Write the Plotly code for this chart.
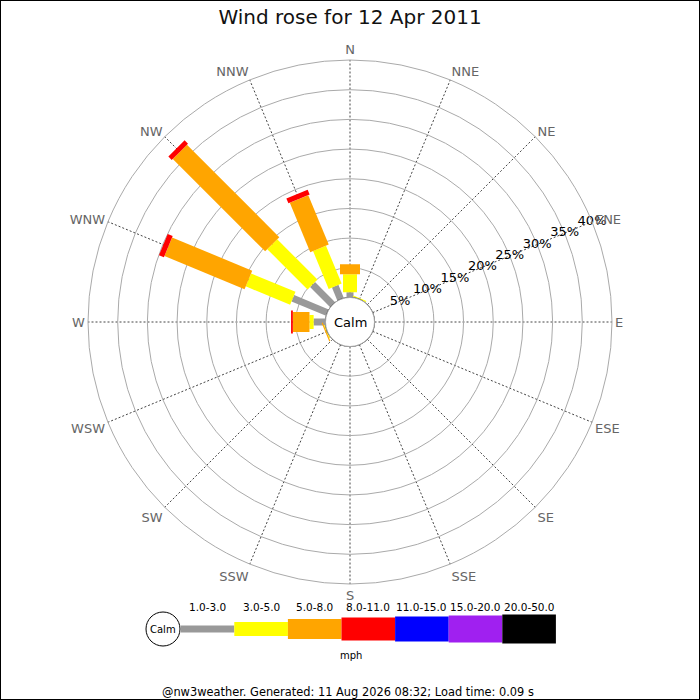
import plotly.graph_objects as go

# Wind directions (16 point compass) and their bearings
directions = ['N', 'NNE', 'NE', 'ENE', 'E', 'ESE', 'SE', 'SSE',
              'S', 'SSW', 'SW', 'WSW', 'W', 'WNW', 'NW', 'NNW']
bearings = [i * 22.5 for i in range(16)]

# Speed bands (mph) and colours
bands = ['1.0-3.0', '3.0-5.0', '5.0-8.0', '8.0-11.0', '11.0-15.0', '15.0-20.0', '20.0-50.0']
band_colors = ['#999999', '#ffff00', '#ffa500', '#ff0000', '#0000ff', '#a020f0', '#000000']
band_widths = [7, 14, 20, 23, 25, 27, 29]

# Percentage of time per direction for each band (N ... NNW)
pct_1_3 = [0.9, 0, 0, 0, 0, 0, 0, 0, 0, 0, 0, 0, 2.0, 6.3, 4.8, 2.4]
pct_3_5 = [3.0, 0.2, 0, 0, 0, 0, 0, 0, 0, 0, 0, 0.15, 0.7, 8.1, 9.6, 6.9]
pct_5_8 = [1.7, 0, 0, 0, 0, 0, 0, 0, 0, 0, 0, 0.2, 2.8, 14.6, 22.0, 9.0]
pct_8_11 = [0, 0, 0, 0, 0, 0, 0, 0, 0, 0, 0, 0, 0.3, 0.9, 0.8, 0.9]
pct_11_15 = [0] * 16
pct_15_20 = [0] * 16
pct_20_50 = [0] * 16
band_values = [pct_1_3, pct_3_5, pct_5_8, pct_8_11, pct_11_15, pct_15_20, pct_20_50]

radial_ticks = [5, 10, 15, 20, 25, 30, 35, 40]
radial_label_bearing = 67.5

FONT = 'DejaVu Sans'

fig = go.Figure()

# Stack bands outward, each band drawn as a thick line segment
base = [0.0] * 16
for name, vals, col, w in zip(bands, band_values, band_colors, band_widths):
    r, th = [], []
    for i in range(16):
        if vals[i] > 0:
            r += [base[i], base[i] + vals[i], None]
            th += [bearings[i], bearings[i], None]
        base[i] += vals[i]
    if r:
        fig.add_trace(go.Scatterpolar(r=r, theta=th, mode='lines', name=name,
                                      line=dict(color=col, width=w), hoverinfo='skip'))

# Calm circle at the hole edge
circ = [i * 2.0 for i in range(181)]
fig.add_trace(go.Scatterpolar(r=[0] * len(circ), theta=circ, mode='lines',
                              line=dict(color='black', width=1), hoverinfo='skip'))

# Percentage labels centred on the rings
fig.add_trace(go.Scatterpolar(r=radial_ticks, theta=[radial_label_bearing] * len(radial_ticks),
                              mode='text', text=[f'{v}%' for v in radial_ticks],
                              textposition='middle center',
                              textfont=dict(size=13, color='black', family=FONT),
                              hoverinfo='skip', cliponaxis=False))

fig.update_layout(
    width=700, height=700,
    paper_bgcolor='white', plot_bgcolor='white',
    margin=dict(l=0, r=0, t=0, b=0),
    showlegend=False,
    font=dict(family=FONT, color='black'),
    title=dict(text='Wind rose for 12 Apr 2011', x=0.5, xanchor='center',
               y=1 - 17 / 700, yanchor='middle', font=dict(size=20, color='#111111')),
    polar=dict(
        domain=dict(x=[88 / 700, 612 / 700], y=[116 / 700, 640 / 700]),
        bgcolor='white',
        hole=24.5 / 262,
        radialaxis=dict(range=[0, 40], tickvals=radial_ticks, showticklabels=False,
                        angle=22.5, showline=False, ticks='',
                        gridcolor='#aaaaaa', gridwidth=1),
        angularaxis=dict(rotation=90, direction='clockwise',
                         tickvals=bearings, ticktext=directions,
                         showline=True, linecolor='#aaaaaa', linewidth=1,
                         gridcolor='#444444', griddash='2px,2px', gridwidth=1,
                         ticks='', tickfont=dict(size=13, color='#666666')),
    ),
)


def label(text, x, y, size):
    return dict(text=text, x=x / 700, y=1 - y / 700, xref='paper', yref='paper',
                xanchor='center', yanchor='middle', showarrow=False,
                font=dict(size=size, color='black'))


annotations = [label('Calm', 350, 322, 13)]
shapes = [dict(type='rect', xref='paper', yref='paper', x0=0, x1=1, y0=0, y1=1,
               line=dict(color='black', width=2))]

# Speed legend at the bottom
leg_y = 629
seg = 53.6
x_start = 180.7
shapes.append(dict(type='circle', xref='paper', yref='paper',
                   x0=(163 - 17) / 700, x1=(163 + 17) / 700,
                   y0=1 - (leg_y + 17) / 700, y1=1 - (leg_y - 17) / 700,
                   line=dict(color='black', width=1), fillcolor='white'))
annotations.append(label('Calm', 163, leg_y, 10))
for i, (name, col, w) in enumerate(zip(bands, band_colors, band_widths)):
    x0 = x_start + i * seg
    shapes.append(dict(type='rect', xref='paper', yref='paper',
                       x0=x0 / 700, x1=(x0 + seg) / 700,
                       y0=1 - (leg_y + w / 2) / 700, y1=1 - (leg_y - w / 2) / 700,
                       line=dict(width=0), fillcolor=col))
    annotations.append(label(name, x0 + seg / 2, 607, 10.5))
annotations.append(label('mph', 351, 655, 10))
annotations.append(label('@nw3weather. Generated: 11 Aug 2026 08:32; Load time: 0.09 s', 348, 692, 11.4))

fig.update_layout(annotations=annotations, shapes=shapes)

fig.write_html('out.html', config={'displayModeBar': False},
               post_script="document.body.style.margin='0';")
